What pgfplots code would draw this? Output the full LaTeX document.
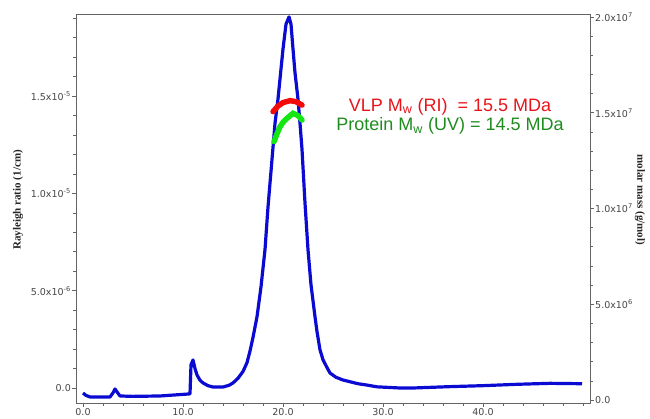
\documentclass[border=0pt]{standalone}
\usepackage{pgfplots}
\pgfplotsset{compat=1.18}
\usepackage{fontspec}
\setmainfont{Liberation Sans}
\newfontfamily\tickfont{DejaVu Sans}
\newfontfamily\labfont{Liberation Serif}

\definecolor{axgray}{RGB}{100,100,100}
\definecolor{tickgray}{RGB}{70,70,70}
\definecolor{curveblue}{RGB}{10,10,210}
\definecolor{curvered}{RGB}{245,10,10}
\definecolor{curvegreen}{RGB}{20,230,20}
\definecolor{textred}{RGB}{232,20,26}
\definecolor{textgreen}{RGB}{30,140,30}

\pgfplotsset{
  common/.style={
    scale only axis,
    width=514pt, height=389pt,
    xmin=-0.7, xmax=50.7,
    axis line style={axgray, line width=0.8pt},
    tick style={axgray, line width=0.6pt},
    major tick length=4pt,
    minor tick length=2.5pt,
    tick align=outside,
    scaled ticks=false,
    ticklabel style={font=\tickfont\fontsize{9.5}{10}\selectfont, text=tickgray, inner sep=1pt},
  },
}

\begin{document}
\begin{tikzpicture}
\begin{axis}[common, name=ax,
    ymin=-0.771e-6, ymax=1.922e-5,
    xtick={0,10,20,30,40},
    xticklabels={0.0,10.0,20.0,30.0,40.0},
    minor xtick={2,4,6,8,12,14,16,18,22,24,26,28,32,34,36,38,42,44,46,48,50},
    xtick pos=bottom,
    ytick={0,5e-6,1e-5,1.5e-5},
    yticklabels={0.0, 5.0x10\textsuperscript{-6}, 1.0x10\textsuperscript{-5}, 1.5x10\textsuperscript{-5}},
    minor ytick={1e-6,2e-6,3e-6,4e-6,6e-6,7e-6,8e-6,9e-6,1.1e-5,1.2e-5,1.3e-5,1.4e-5,1.6e-5,1.7e-5,1.8e-5,1.9e-5},
    ytick pos=left,
    ylabel={Rayleigh ratio (1/cm)},
    ylabel style={font=\labfont\bfseries\fontsize{11}{12}\selectfont, text=black!85,
      at={(axis description cs:-0.113,0.522)}, anchor=center, rotate=0},
  ]
\addplot[curveblue, line width=3.2pt, line join=round] coordinates {
  (0.0,-2.6e-7) (0.3,-3.8e-7) (0.7,-4.6e-7) (2.7,-4.6e-7) (3.0,-2.5e-7)
  (3.2,-5e-8) (3.4,-2.0e-7) (3.7,-4.1e-7) (5.0,-4.3e-7) (7.7,-4.1e-7)
  (10.5,-3.1e-7) (10.7,-3.0e-7) (10.8,1.2e-6) (11.0,1.44e-6) (11.2,1.0e-6)
  (11.4,6.7e-7) (11.7,4.0e-7) (12.0,2.6e-7) (12.5,1.2e-7) (13.0,5e-8) (14.0,5e-8)
  (14.6,1.4e-7) (15.0,2.6e-7) (15.5,5.0e-7) (16.0,8.5e-7) (16.4,1.3e-6)
  (16.7,1.9e-6) (17.0,2.6e-6) (17.4,3.66e-6) (17.8,5.2e-6) (18.2,7.11e-6)
  (18.5,9.3e-6) (18.9,1.175e-5) (19.2,1.36e-5) (19.5,1.485e-5) (19.8,1.64e-5)
  (20.0,1.742e-5) (20.3,1.87e-5) (20.6,1.907e-5) (20.8,1.87e-5)
  (21.0,1.742e-5) (21.2,1.62e-5) (21.5,1.485e-5) (21.7,1.36e-5) (21.9,1.227e-5)
  (22.2,9.5e-6) (22.5,7.11e-6) (22.8,5.3e-6) (23.2,3.66e-6) (23.4,2.9e-6)
  (23.7,1.96e-6) (24.0,1.45e-6) (24.4,1.05e-6) (24.7,7.7e-7) (25.3,5.5e-7)
  (26.0,4.1e-7) (26.7,3.2e-7) (27.5,2.2e-7) (28.4,1.5e-7) (29.4,6e-8)
  (31.7,0) (33.0,0) (36.7,7e-8) (40.0,1.2e-7) (43.4,1.9e-7) (46.7,2.4e-7)
  (49.9,2.2e-7)
};
\node[align=center, font=\fontsize{18}{19.5}\selectfont] at (axis cs:36.7,1.397e-5)
  {\textcolor{textred}{VLP M\textsubscript{w} (RI) \ = 15.5 MDa}\\
   \textcolor{textgreen}{Protein M\textsubscript{w} (UV) = 14.5 MDa}};
\end{axis}

\begin{axis}[common,
    ymin=-1.57e5, ymax=2.0157e7,
    axis x line=none,
    axis y line*=right,
    ytick={0,5e6,1e7,1.5e7,2e7},
    yticklabels={0.0, 5.0x10\textsuperscript{6}, 1.0x10\textsuperscript{7}, 1.5x10\textsuperscript{7}, 2.0x10\textsuperscript{7}},
    minor ytick={1e6,2e6,3e6,4e6,6e6,7e6,8e6,9e6,1.1e7,1.2e7,1.3e7,1.4e7,1.6e7,1.7e7,1.8e7,1.9e7},
    ylabel={molar mass (g/mol)},
    ylabel style={font=\labfont\bfseries\fontsize{11}{12}\selectfont, text=black!85,
      at={(axis description cs:1.097,0.522)}, anchor=center, rotate=180},
  ]
\addplot[curvered, line width=5.5pt, line cap=round] coordinates {
  (19.0,1.506e7) (19.5,1.535e7) (20.0,1.553e7) (20.7,1.563e7) (21.3,1.558e7) (21.9,1.54e7)
};
\addplot[curvegreen, line width=5.5pt, line cap=round] coordinates {
  (19.1,1.349e7) (19.4,1.39e7) (19.7,1.427e7) (20.0,1.45e7) (20.4,1.471e7)
  (21.0,1.497e7) (21.5,1.485e7) (21.9,1.462e7)
};
\end{axis}
\pgfresetboundingbox
\path[use as bounding box] ([shift={(-76pt,-15pt)}]ax.south west) rectangle ([shift={(60pt,14pt)}]ax.north east);
\end{tikzpicture}
\end{document}
